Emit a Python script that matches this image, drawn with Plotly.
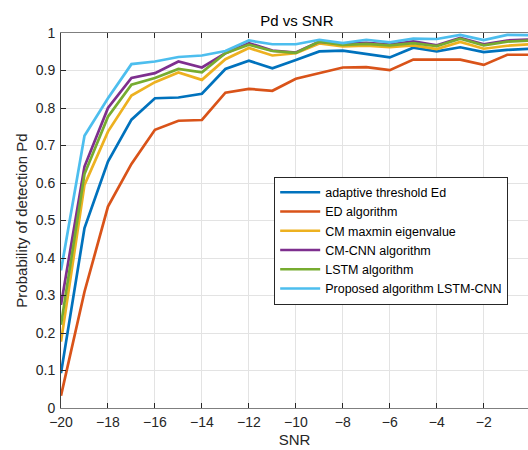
import plotly.graph_objects as go

snr = list(range(-20, 1))

adaptive_ed = [0.093, 0.48, 0.657, 0.769, 0.826, 0.828, 0.838, 0.904, 0.926, 0.906, 0.928,
               0.951, 0.953, 0.944, 0.935, 0.961, 0.951, 0.962, 0.949, 0.955, 0.958]
ed_alg = [0.033, 0.31, 0.537, 0.651, 0.742, 0.766, 0.768, 0.841, 0.851, 0.846, 0.878,
          0.894, 0.908, 0.909, 0.901, 0.929, 0.929, 0.929, 0.915, 0.942, 0.942]
cm_maxmin = [0.177, 0.595, 0.737, 0.833, 0.869, 0.895, 0.875, 0.930, 0.960, 0.940, 0.946,
             0.972, 0.964, 0.966, 0.962, 0.967, 0.957, 0.976, 0.958, 0.966, 0.970]
cm_cnn = [0.275, 0.644, 0.800, 0.880, 0.893, 0.924, 0.908, 0.946, 0.973, 0.953, 0.948,
          0.977, 0.971, 0.974, 0.969, 0.978, 0.967, 0.987, 0.970, 0.980, 0.983]
lstm = [0.222, 0.624, 0.777, 0.862, 0.880, 0.904, 0.895, 0.946, 0.969, 0.952, 0.947,
        0.977, 0.968, 0.971, 0.967, 0.973, 0.965, 0.985, 0.967, 0.977, 0.980]
proposed = [0.367, 0.726, 0.826, 0.917, 0.924, 0.936, 0.940, 0.952, 0.980, 0.970, 0.970,
            0.982, 0.973, 0.982, 0.975, 0.985, 0.984, 0.995, 0.981, 0.995, 0.994]

names = ["adaptive threshold Ed", "ED algorithm", "CM maxmin eigenvalue",
         "CM-CNN algorithm", "LSTM algorithm", "Proposed algorithm LSTM-CNN"]
series = [adaptive_ed, ed_alg, cm_maxmin, cm_cnn, lstm, proposed]
colors = ["#0072BD", "#D95319", "#EDB120", "#7E2F8E", "#77AC30", "#4DBEEE"]

x_ticks = list(range(-20, 0, 2))
y_ticks = [i / 10 for i in range(11)]
y_tick_labels = ["0", "0.1", "0.2", "0.3", "0.4", "0.5", "0.6", "0.7", "0.8", "0.9", "1"]

fig = go.Figure()
for name, ys, c in zip(names, series, colors):
    fig.add_trace(go.Scatter(x=snr, y=ys, mode="lines", name=name,
                             line=dict(color=c, width=2.7)))

font_family = "Liberation Sans, Arial, Helvetica, sans-serif"

fig.update_layout(
    width=528, height=450,
    margin=dict(l=61, r=0, t=33, b=42),
    paper_bgcolor="white", plot_bgcolor="white",
    font=dict(family=font_family, color="#262626", size=14),
    title=dict(text="Pd vs SNR", x=0.505, xref="paper", y=1 - 21 / 450,
               yanchor="middle", xanchor="center",
               font=dict(size=15, color="#000000")),
    showlegend=True,
    legend=dict(x=0.4565, y=0.617, xanchor="left", yanchor="top",
                bgcolor="white", bordercolor="#262626", borderwidth=1,
                font=dict(size=12.5, color="#000000"), itemwidth=40,
                tracegroupgap=0),
    xaxis=dict(range=[-20, -0.115], tickmode="array", tickvals=x_ticks,
               ticks="inside", ticklen=5, tickcolor="#262626",
               showline=True, linecolor="#7f7f7f", linewidth=1, mirror="ticks",
               showgrid=True, gridcolor="#e3e3e3", gridwidth=1, zeroline=False,
               tickfont=dict(size=14), ticklabelstandoff=1,
               title=dict(text="SNR", font=dict(size=15), standoff=5)),
    yaxis=dict(range=[0, 1], tickmode="array", tickvals=y_ticks, ticktext=y_tick_labels,
               ticks="inside", ticklen=5, tickcolor="#262626",
               showline=True, linecolor="#404040", linewidth=1, mirror=False,
               showgrid=True, gridcolor="#e3e3e3", gridwidth=1, zeroline=False,
               tickfont=dict(size=14), ticklabelstandoff=2,
               title=dict(text="Probability of detection Pd", font=dict(size=15), standoff=4)),
)

fig.write_html("out.html")
